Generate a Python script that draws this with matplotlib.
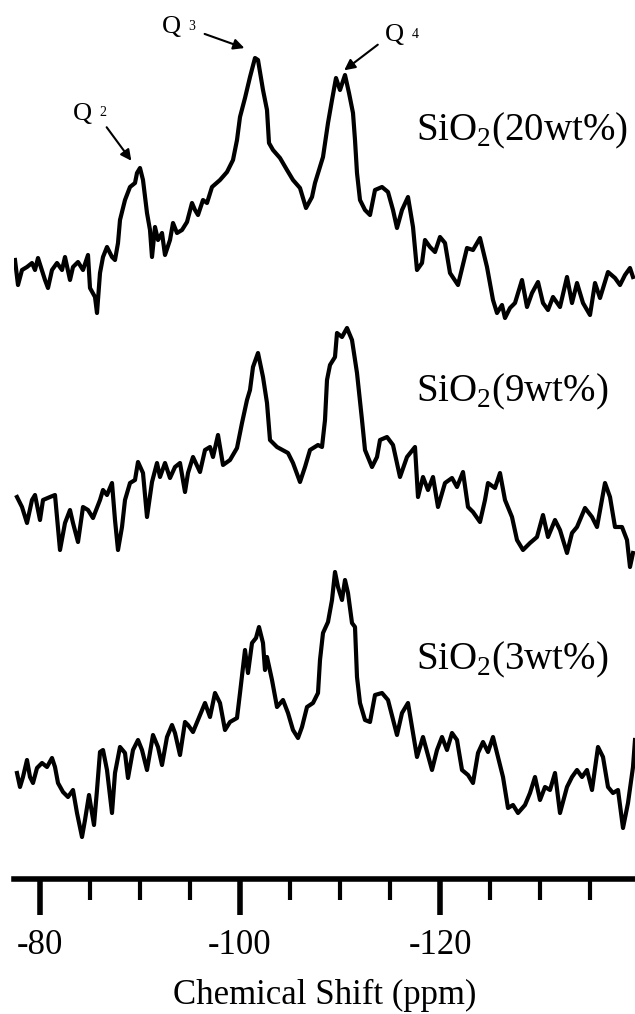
import numpy as np
import matplotlib
matplotlib.use("Agg")
import matplotlib.pyplot as plt
from matplotlib.ticker import MultipleLocator

# 29Si NMR spectra, chemical shift (ppm) vs intensity (arb. units)
ppm_20 = [-77.5, -77.8, -78.2, -78.7, -79.2, -79.5, -79.8, -80.5, -80.8, -81.2,
          -81.7, -82.2, -82.5, -83.0, -83.3, -83.8, -84.3, -84.8, -85.0, -85.5,
          -85.7, -86.0, -86.3, -86.7, -87.2, -87.5, -87.8, -88.0, -88.5, -89.0,
          -89.5, -89.7, -90.0, -90.3, -90.7, -91.0, -91.2, -91.5, -91.8, -92.2,
          -92.5, -93.0, -93.3, -93.7, -94.2, -94.7, -95.2, -95.5, -95.8, -96.3,
          -96.7, -97.2, -98.0, -98.7, -99.3, -99.7, -100.0, -100.5, -101.0, -101.5,
          -101.8, -102.3, -102.7, -102.9, -103.3, -104.0, -104.7, -105.3, -106.0, -106.6,
          -107.2, -107.5, -108.3, -108.8, -109.2, -109.6, -110.0, -110.5, -110.9, -111.3,
          -111.5, -111.7, -112.0, -112.5, -113.0, -113.5, -114.2, -114.8, -115.3, -115.7,
          -116.2, -116.8, -117.3, -117.7, -118.2, -118.5, -119.0, -119.5, -120.0, -120.5,
          -121.0, -121.8, -122.7, -123.3, -124.0, -124.7, -125.3, -125.7, -126.2, -126.5,
          -127.0, -127.5, -128.2, -128.7, -129.2, -129.8, -130.3, -130.8, -131.3, -132.0,
          -132.7, -133.2, -133.7, -134.3, -135.0, -135.5, -136.0, -136.8, -137.5, -138.0,
          -138.5, -139.0, -139.3]
int_20 = [70, 45, 60, 63, 67, 60, 72, 50, 42, 60,
          67, 60, 73, 50, 63, 68, 60, 75, 42, 33,
          17, 57, 73, 83, 73, 70, 87, 110, 130, 143,
          147, 157, 162, 150, 117, 100, 73, 103, 90, 97,
          75, 90, 107, 97, 100, 108, 127, 120, 115, 130,
          127, 143, 150, 158, 170, 190, 213, 232, 253, 272,
          270, 240, 220, 187, 180, 172, 160, 150, 142, 122,
          133, 147, 173, 207, 230, 252, 240, 255, 237, 217,
          190, 157, 130, 120, 115, 140, 143, 138, 120, 102,
          120, 133, 103, 60, 67, 90, 83, 78, 93, 87,
          57, 45, 82, 80, 92, 63, 30, 17, 25, 12,
          22, 27, 50, 23, 37, 48, 27, 20, 33, 23,
          53, 27, 47, 27, 15, 47, 32, 58, 52, 45,
          55, 62, 53]

ppm_9 = [-77.7, -78.2, -78.7, -79.2, -79.5, -80.0, -80.3, -81.0, -81.5, -82.0,
         -82.5, -83.0, -83.3, -83.8, -84.3, -84.8, -85.3, -86.0, -86.3, -86.7,
         -87.2, -87.5, -87.8, -88.2, -88.5, -89.0, -89.5, -89.8, -90.3, -90.7,
         -91.2, -91.7, -92.0, -92.5, -93.0, -93.5, -94.0, -94.5, -94.8, -95.3,
         -96.0, -96.5, -97.0, -97.3, -97.8, -98.3, -99.0, -99.7, -100.2, -100.7,
         -101.0, -101.3, -101.8, -102.3, -102.7, -103.0, -103.7, -104.8, -105.3, -106.0,
         -106.5, -107.0, -107.8, -108.2, -108.5, -108.7, -109.0, -109.5, -109.7, -110.2,
         -110.7, -111.2, -111.7, -112.2, -112.5, -113.2, -113.7, -114.0, -114.7, -115.3,
         -116.0, -116.7, -117.5, -117.8, -118.3, -118.8, -119.3, -119.8, -120.5, -121.2,
         -121.7, -122.3, -122.8, -123.3, -124.0, -124.5, -124.8, -125.5, -126.0, -126.5,
         -127.2, -127.7, -128.3, -129.0, -129.7, -130.3, -130.8, -131.5, -132.0, -132.7,
         -133.2, -133.7, -134.5, -135.2, -135.7, -136.5, -137.0, -137.5, -138.2, -138.7,
         -139.0, -139.3]
int_9 = [83, 73, 57, 80, 85, 60, 80, 83, 85, 30,
         57, 70, 57, 38, 73, 70, 62, 80, 90, 85,
         97, 60, 30, 53, 80, 97, 100, 118, 107, 63,
         98, 117, 103, 117, 102, 113, 117, 88, 107, 123,
         108, 130, 133, 123, 145, 115, 120, 132, 157, 180,
         190, 213, 227, 203, 177, 140, 133, 127, 117, 98,
         113, 130, 135, 133, 160, 200, 215, 223, 247, 243,
         252, 240, 207, 160, 130, 113, 123, 140, 143, 135,
         103, 123, 133, 83, 103, 90, 103, 73, 97, 102,
         93, 108, 73, 68, 58, 80, 97, 92, 107, 80,
         63, 40, 30, 37, 43, 65, 43, 60, 50, 27,
         47, 53, 72, 63, 53, 97, 83, 53, 53, 40,
         13, 27]

ppm_3 = [-77.7, -78.0, -78.3, -78.7, -79.0, -79.3, -79.7, -80.2, -80.7, -81.2,
         -81.5, -81.8, -82.3, -82.8, -83.3, -83.7, -84.2, -84.5, -84.9, -85.4,
         -85.7, -86.0, -86.3, -86.7, -87.2, -87.5, -88.0, -88.5, -88.8, -89.3,
         -89.8, -90.2, -90.7, -91.3, -91.8, -92.2, -92.7, -93.2, -93.5, -94.0,
         -94.5, -94.8, -95.3, -95.8, -96.5, -97.0, -97.5, -98.0, -98.5, -99.0,
         -99.7, -100.0, -100.5, -100.8, -101.2, -101.6, -101.9, -102.3, -102.5, -102.7,
         -103.2, -103.7, -104.3, -104.8, -105.3, -105.8, -106.2, -106.7, -107.3, -107.8,
         -108.0, -108.3, -108.8, -109.2, -109.5, -109.8, -110.2, -110.5, -110.8, -111.2,
         -111.5, -111.7, -112.0, -112.5, -113.0, -113.5, -114.2, -114.8, -115.7, -116.2,
         -116.8, -117.3, -117.7, -118.3, -119.2, -119.7, -120.2, -120.7, -121.2, -121.7,
         -122.2, -122.8, -123.3, -123.8, -124.3, -124.8, -125.3, -125.8, -126.3, -126.8,
         -127.3, -127.8, -128.5, -129.0, -129.5, -130.0, -130.5, -131.0, -131.5, -132.0,
         -132.7, -133.2, -133.7, -134.2, -134.7, -135.2, -135.8, -136.3, -136.8, -137.3,
         -137.8, -138.3, -138.8, -139.3, -139.5]
int_3 = [67, 53, 63, 80, 63, 57, 72, 77, 73, 82,
         73, 57, 48, 43, 50, 27, 3, 20, 45, 15,
         50, 88, 90, 70, 27, 67, 93, 87, 62, 90,
         100, 90, 70, 105, 93, 75, 103, 115, 107, 85,
         118, 115, 108, 120, 137, 123, 147, 137, 110, 118,
         122, 147, 190, 167, 197, 202, 213, 197, 170, 183,
         160, 133, 140, 127, 110, 102, 113, 133, 137, 147,
         180, 207, 218, 240, 268, 253, 240, 260, 247, 217,
         213, 163, 137, 120, 118, 145, 147, 140, 105, 127,
         137, 107, 83, 103, 70, 90, 103, 90, 107, 100,
         70, 65, 57, 87, 98, 88, 103, 83, 63, 32,
         35, 27, 35, 47, 63, 40, 53, 50, 67, 27,
         53, 63, 70, 63, 70, 50, 93, 83, 53, 47,
         50, 12, 37, 73, 100]

sample_labels = [r"SiO$_2$(20wt%)", r"SiO$_2$(9wt%)", r"SiO$_2$(3wt%)"]
peak_names = ["2", "3", "4"]

plt.rcParams['font.family'] = 'Liberation Serif'
plt.rcParams['mathtext.fontset'] = 'custom'
plt.rcParams['mathtext.rm'] = 'Liberation Serif'
plt.rcParams['axes.unicode_minus'] = False

fig = plt.figure(figsize=(6.35, 10.14), dpi=100)
ax = fig.add_axes([14 / 635, 135 / 1014, 621 / 635, 879 / 1014])

traces = [(ppm_20, int_20, 549, 748), (ppm_9, int_9, 299, 487), (ppm_3, int_3, 39, 219)]
for (ppm, inten, off, ly), lab in zip(traces, sample_labels):
    ax.plot(ppm, np.array(inten) + off, color='black', lw=3, solid_joinstyle='round')
    ax.text(-117.6, ly, lab, fontsize=28, ha='left', va='center')

# Q-site markers on the top spectrum
q_text = [(-84.2, 765), (-93.1, 852), (-115.4, 844)]
q_from = [(-86.5, 754), (-96.2, 846), (-114.0, 836)]
q_to = [(-89.3, 716), (-100.7, 830), (-110.2, 807)]
for name, (qx, qy), start, end in zip(peak_names, q_text, q_from, q_to):
    ax.text(qx, qy, "Q", fontsize=19, ha='center', va='center')
    ax.text(qx - 2.1, qy + 1, name, fontsize=10, ha='center', va='center')
    ax.annotate('', xy=end, xytext=start,
                arrowprops=dict(arrowstyle='-|>', color='black', lw=1.5, mutation_scale=16))

ax.set_xlim(-77.4, -139.5)
ax.set_ylim(0, 879)
for s in ['left', 'top', 'right']:
    ax.spines[s].set_visible(False)
ax.spines['bottom'].set_linewidth(4)
ax.set_yticks([])
ax.xaxis.set_major_locator(MultipleLocator(20))
ax.xaxis.set_minor_locator(MultipleLocator(5))
ax.tick_params(which='major', direction='out', length=26, width=4, pad=10, labelsize=25)
ax.tick_params(which='minor', direction='out', length=15, width=3)
ax.set_xlabel('Chemical Shift (ppm)', fontsize=25, labelpad=12)

fig.savefig('out.png', dpi=100)
